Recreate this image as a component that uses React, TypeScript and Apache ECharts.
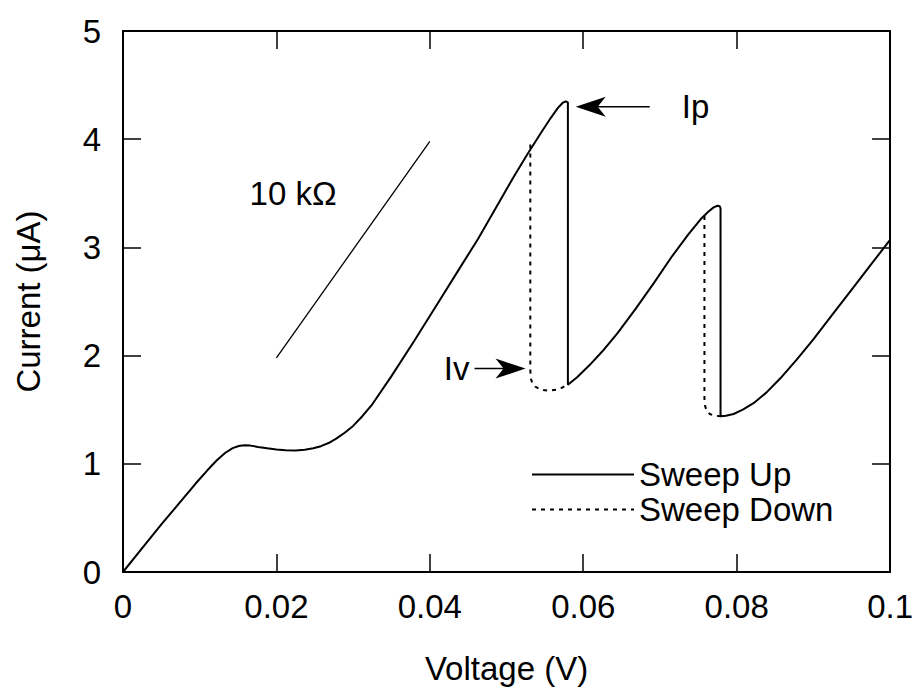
import React, { useEffect, useRef } from "react";
import * as echarts from "echarts";

const sweepUpV = [0, 0.0025, 0.005, 0.0075, 0.0095, 0.011, 0.0122, 0.0133, 0.0143, 0.0151, 0.0158, 0.0166, 0.0176, 0.0188, 0.02, 0.0212, 0.0225, 0.0237, 0.0248, 0.0258, 0.0268, 0.0278, 0.0289, 0.03, 0.0312, 0.0325, 0.035, 0.038, 0.041, 0.044, 0.0463, 0.0489, 0.051, 0.0528, 0.0545, 0.0558, 0.0567, 0.0573, 0.0577, 0.058, 0.058, 0.0592, 0.0608, 0.0625, 0.0645, 0.0668, 0.0692, 0.0716, 0.0737, 0.0753, 0.0763, 0.077, 0.0775, 0.0778, 0.0779, 0.0779, 0.0786, 0.0796, 0.0808, 0.0822, 0.0839, 0.0857, 0.0878, 0.09, 0.0925, 0.095, 0.0975, 0.1];
const sweepUpI = [0, 0.22, 0.44, 0.65, 0.82, 0.94, 1.03, 1.1, 1.145, 1.165, 1.172, 1.168, 1.156, 1.143, 1.132, 1.125, 1.124, 1.13, 1.143, 1.163, 1.192, 1.233, 1.287, 1.35, 1.44, 1.55, 1.81, 2.14, 2.48, 2.82, 3.08, 3.4, 3.66, 3.87, 4.06, 4.2, 4.29, 4.335, 4.35, 4.34, 1.73, 1.8, 1.91, 2.04, 2.21, 2.43, 2.67, 2.92, 3.12, 3.26, 3.33, 3.37, 3.385, 3.38, 3.36, 1.44, 1.445, 1.46, 1.5, 1.56, 1.66, 1.79, 1.96, 2.15, 2.38, 2.61, 2.84, 3.07];

const sweepDownV = [0.0531, 0.0531, 0.0532, 0.0534, 0.0538, 0.0545, 0.0555, 0.0565, 0.0573, 0.0579, null, 0.0758, 0.0758, 0.0759, 0.0761, 0.0765, 0.0771, 0.0779];
const sweepDownI = [3.95, 1.86, 1.78, 1.74, 1.71, 1.685, 1.675, 1.685, 1.705, 1.735, null, 3.29, 1.6, 1.53, 1.49, 1.46, 1.445, 1.44];

const refV = [0.02, 0.04];
const refI = [1.98, 3.98];

const xTicks = [0, 0.02, 0.04, 0.06, 0.08, 0.1];
const yTicks = [0, 1, 2, 3, 4, 5];

const FONT = "Liberation Sans, Arial, Helvetica, sans-serif";
const FS = 33;

export default function App() {
  const ref = useRef<HTMLDivElement>(null);
  useEffect(() => {
    if (!ref.current) return;
    const chart = echarts.init(ref.current, undefined, { renderer: "svg" });
    const up = sweepUpV.map((v, i) => [v, sweepUpI[i]]);
    const down = sweepDownV.map((v, i) => (v === null ? [null, null] : [v, sweepDownI[i]]));
    const refLine = refV.map((v, i) => [v, refI[i]]);
    const axisLine = { show: true, onZero: false, lineStyle: { color: "#000", width: 2 } };
    const axisTick = { show: true, inside: true, length: 18, lineStyle: { color: "#000", width: 1.5 } };
    const xFmt = (v: number) => {
      const r = Number(v.toFixed(4));
      return xTicks.includes(r) ? String(r) : "";
    };
    chart.setOption({
      animation: false,
      backgroundColor: "#fff",
      textStyle: { fontFamily: FONT },
      grid: { left: 123, right: 22, top: 31, bottom: 117, containLabel: false },
      xAxis: [
        {
          type: "value", min: 0, max: 0.1, interval: 0.02,
          axisLine, axisTick,
          splitLine: { show: false },
          axisLabel: { color: "#000", fontSize: FS, fontFamily: FONT, margin: 18, formatter: xFmt },
          name: "Voltage (V)", nameLocation: "middle", nameGap: 80,
          nameTextStyle: { color: "#000", fontSize: FS, fontFamily: FONT },
        },
        {
          type: "value", min: 0, max: 0.1, interval: 0.02, position: "top",
          axisLine, axisTick, splitLine: { show: false }, axisLabel: { show: false },
        },
      ],
      yAxis: [
        {
          type: "value", min: 0, max: 5, interval: 1,
          axisLine, axisTick, splitLine: { show: false },
          axisLabel: { color: "#000", fontSize: FS, fontFamily: FONT, margin: 22, formatter: (v: number) => (yTicks.includes(v) ? String(v) : "") },
          name: "Current (\u03BCA)", nameLocation: "middle", nameGap: 78, nameRotate: 90,
          nameTextStyle: { color: "#000", fontSize: FS, fontFamily: FONT },
        },
        {
          type: "value", min: 0, max: 5, interval: 1, position: "right",
          axisLine, axisTick, splitLine: { show: false }, axisLabel: { show: false },
        },
      ],
      legend: {
        orient: "vertical", left: 526, top: 453, itemWidth: 102, itemHeight: 14, itemGap: 2,
        data: ["Sweep Up", "Sweep Down"],
        textStyle: { color: "#000", fontSize: FS, fontFamily: FONT },
        itemStyle: { opacity: 0 },
        selectedMode: false,
      },
      series: [
        {
          name: "Sweep Up", type: "line", data: up, symbol: "none",
          lineStyle: { color: "#000", width: 2, type: "solid" },
          itemStyle: { color: "#000" },
        },
        {
          name: "Sweep Down", type: "line", data: down, symbol: "none", connectNulls: false,
          lineStyle: { color: "#000", width: 2, type: [4, 5] },
          itemStyle: { color: "#000" },
        },
        {
          name: "10k", type: "line", data: refLine, symbol: "none",
          lineStyle: { color: "#000", width: 1.3 },
        },
      ],
    });
    const p = (v: number, i: number) => chart.convertToPixel({ gridIndex: 0 }, [v, i]) as number[];
    const ip = p(0.0585, 4.3);
    const iv = p(0.053, 1.88);
    const kt = p(0.0165, 3.5);
    const arrowHead = (tipX: number, y: number, dir: number) => ({
      type: "polygon",
      shape: { points: [[tipX, y], [tipX - dir * 30, y - 10], [tipX - dir * 22, y], [tipX - dir * 30, y + 10]] },
      style: { fill: "#000" },
    });
    chart.setOption({
      graphic: [
        { type: "text", x: kt[0], y: kt[1], style: { text: "10 k\u03A9", font: `${FS}px ${FONT}`, fill: "#000", textVerticalAlign: "middle" } },
        { type: "line", shape: { x1: ip[0] + 10, y1: ip[1], x2: ip[0] + 78, y2: ip[1] }, style: { stroke: "#000", lineWidth: 1.5 } },
        arrowHead(ip[0] + 4, ip[1], -1),
        { type: "text", x: ip[0] + 110, y: ip[1], style: { text: "Ip", font: `${FS}px ${FONT}`, fill: "#000", textVerticalAlign: "middle" } },
        { type: "line", shape: { x1: iv[0] - 55, y1: iv[1], x2: iv[0] - 10, y2: iv[1] }, style: { stroke: "#000", lineWidth: 1.5 } },
        arrowHead(iv[0] - 4, iv[1], 1),
        { type: "text", x: iv[0] - 60, y: iv[1], style: { text: "Iv", font: `${FS}px ${FONT}`, fill: "#000", textAlign: "right", textVerticalAlign: "middle" } },
      ],
    });
    return () => chart.dispose();
  }, []);
  return <div ref={ref} style={{ position: "absolute", left: 0, top: 0, width: 916, height: 690 }} />;
}
